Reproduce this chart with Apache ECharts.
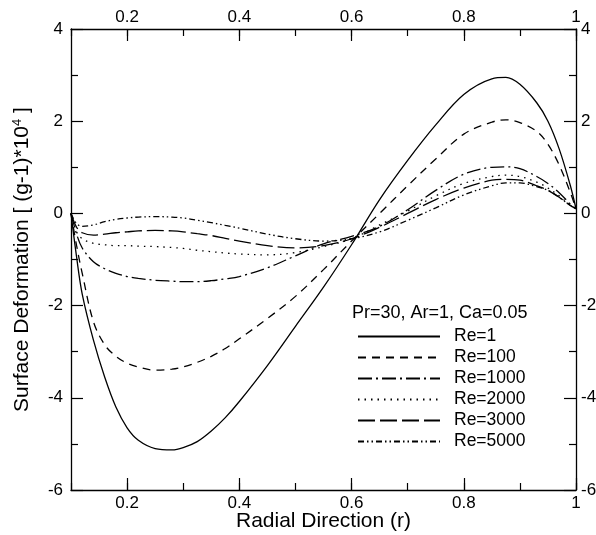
<!DOCTYPE html>
<html>
<head>
    <meta charset="UTF-8">
    <title>Surface Deformation</title>
    <script src="https://cdn.jsdelivr.net/npm/echarts@6/dist/echarts.min.js"></script>
    <style>
        html, body {margin: 0; padding: 0; background: #fff;}
        #chart {width: 596px; height: 535px;}
    </style>
</head>
<body>
<div id="chart"></div>
<script>
    // radial positions (shared by all curves)
    var rValues = [0.1, 0.11, 0.12, 0.14, 0.16, 0.18, 0.2, 0.22, 0.25, 0.28, 0.3, 0.325, 0.35, 0.375, 0.4, 0.45, 0.5,
        0.55, 0.6, 0.65, 0.7, 0.75, 0.8, 0.85, 0.875, 0.9, 0.93, 0.95, 0.97, 0.99, 1.0];

    // surface deformation (g-1)*10^4
    var re1 = [0, -0.95, -1.75, -2.75, -3.55, -4.2, -4.65, -4.92, -5.1, -5.13, -5.08, -4.95, -4.72, -4.43, -4.08, -3.3, -2.45,
        -1.6, -0.68, 0.3, 1.15, 1.92, 2.58, 2.92, 2.95, 2.8, 2.4, 2.0, 1.4, 0.6, 0.1];
    var re100 = [0, -0.7, -1.3, -2.35, -2.85, -3.1, -3.25, -3.33, -3.4, -3.38, -3.33, -3.23, -3.1, -2.93, -2.72, -2.28, -1.8,
        -1.22, -0.6, 0.0, 0.6, 1.18, 1.72, 1.98, 2.03, 1.97, 1.78, 1.5, 1.05, 0.45, 0.1];
    var re1000 = [0, -0.45, -0.75, -1.05, -1.2, -1.3, -1.37, -1.41, -1.45, -1.47, -1.48, -1.48, -1.46, -1.42, -1.37, -1.18, -0.92,
        -0.66, -0.5, -0.28, 0.08, 0.5, 0.85, 1.0, 1.01, 0.97, 0.8, 0.65, 0.45, 0.2, 0.1];
    var re2000 = [0, -0.4, -0.55, -0.65, -0.68, -0.7, -0.7, -0.71, -0.72, -0.74, -0.76, -0.8, -0.83, -0.86, -0.88, -0.9, -0.85,
        -0.72, -0.55, -0.25, 0.05, 0.38, 0.65, 0.8, 0.83, 0.8, 0.68, 0.55, 0.38, 0.18, 0.1];
    var re3000 = [0, -0.3, -0.42, -0.47, -0.45, -0.42, -0.4, -0.38, -0.37, -0.38, -0.4, -0.44, -0.48, -0.54, -0.6, -0.7, -0.75,
        -0.7, -0.55, -0.3, 0.0, 0.3, 0.55, 0.72, 0.74, 0.72, 0.6, 0.5, 0.35, 0.17, 0.1];
    var re5000 = [0, -0.22, -0.28, -0.25, -0.18, -0.13, -0.1, -0.08, -0.07, -0.08, -0.1, -0.15, -0.2, -0.26, -0.32, -0.45, -0.55,
        -0.6, -0.55, -0.4, -0.15, 0.12, 0.4, 0.6, 0.66, 0.66, 0.58, 0.5, 0.35, 0.17, 0.1];

    var seriesNames = ['Re=1', 'Re=100', 'Re=1000', 'Re=2000', 'Re=3000', 'Re=5000'];
    var seriesValues = [re1, re100, re1000, re2000, re3000, re5000];
    var dashTypes = ['solid', [8, 6], [14, 4, 2, 4], [1.5, 5], [17, 5], [6, 3, 1.5, 3, 1.5, 3]];

    var majorTicks = [0.2, 0.4, 0.6, 0.8, 1.0];
    var yMin = -6, yMax = 4;

    var font = 'Liberation Sans, Arial, Helvetica, sans-serif';

    function pairs(ys) {
        var out = [];
        for (var i = 0; i < rValues.length; i++) {
            out.push([rValues[i], ys[i]]);
        }
        return out;
    }

    function xLabel(v) {
        var k = Math.round(v * 10);
        if (k % 2 !== 0) return '';
        if (k === 10) return '1';
        return (k / 10).toFixed(1);
    }

    function makeX(pos, major) {
        var ax = {
            type: 'value',
            position: pos,
            min: 0.1,
            max: 1.0,
            interval: 0.1,
            splitLine: {show: false},
            axisLine: {show: !major, onZero: false, lineStyle: {color: '#000', width: 1.3}},
            axisTick: {inside: true, length: 7, lineStyle: {color: '#000', width: 1.2}},
            axisLabel: {show: false}
        };
        if (major) {
            ax.axisTick = {inside: true, length: 12, customValues: majorTicks, lineStyle: {color: '#000', width: 1.2}};
            ax.axisLabel = {
                show: true, customValues: majorTicks, formatter: xLabel,
                margin: pos === 'top' ? 3 : 5,
                color: '#000', fontSize: 17, fontFamily: font
            };
        }
        if (pos === 'bottom' && major) {
            ax.name = 'Radial Direction (r)';
            ax.nameLocation = 'middle';
            ax.nameGap = 21;
            ax.nameMoveOverlap = false;
            ax.nameTextStyle = {color: '#000', fontSize: 21, fontFamily: font, verticalAlign: 'top'};
        }
        return ax;
    }

    function makeY(pos) {
        var ax = {
            type: 'value',
            position: pos,
            min: yMin,
            max: yMax,
            interval: 2,
            splitLine: {show: false},
            axisLine: {show: true, onZero: false, lineStyle: {color: '#000', width: 1.3}},
            axisTick: {inside: true, length: 12, lineStyle: {color: '#000', width: 1.2}},
            minorTick: {show: true, splitNumber: 2, length: 7, lineStyle: {color: '#000', width: 1.2}},
            axisLabel: {
                color: '#000', fontSize: 17, fontFamily: font,
                margin: pos === 'left' ? 8 : 5
            }
        };
        if (pos === 'left') {
            ax.name = '{m|Surface Deformation [ (g-1)*10}{s|4}{m| ]}';
            ax.nameLocation = 'middle';
            ax.nameGap = 37;
            ax.nameRotate = 90;
            ax.nameMoveOverlap = false;
            ax.nameTextStyle = {
                rich: {
                    m: {color: '#000', fontSize: 21, fontFamily: font},
                    s: {color: '#000', fontSize: 13, fontFamily: font, verticalAlign: 'top', padding: [0, 0, 10, 0]}
                }
            };
        }
        return ax;
    }

    var series = [];
    for (var i = 0; i < seriesNames.length; i++) {
        series.push({
            name: seriesNames[i],
            type: 'line',
            data: pairs(seriesValues[i]),
            symbol: 'none',
            smooth: 0.35,
            silent: true,
            itemStyle: {color: '#000'},
            lineStyle: {color: '#000', width: 1.3, type: dashTypes[i]}
        });
    }

    var myChart = echarts.init(document.getElementById('chart'), null, {renderer: 'canvas'});
    var option = {
        backgroundColor: '#fff',
        animation: false,
        grid: {left: 71, right: 20, top: 29, bottom: 45, containLabel: false, outerBoundsMode: 'none'},
        title: {
            text: 'Pr=30, Ar=1, Ca=0.05',
            left: 352,
            top: 304,
            padding: 0,
            textStyle: {color: '#000', fontSize: 18, fontWeight: 'normal', fontFamily: font}
        },
        legend: {
            orient: 'vertical',
            left: 352,
            top: 321,
            itemWidth: 82,
            itemHeight: 14,
            itemGap: 0,
            data: seriesNames,
            itemStyle: {opacity: 0},
            textStyle: {color: '#000', fontSize: 17.5, fontFamily: font, lineHeight: 21, padding: [0, 0, 0, 9]}
        },
        xAxis: [makeX('bottom', false), makeX('bottom', true), makeX('top', false), makeX('top', true)],
        yAxis: [makeY('left'), makeY('right')],
        series: series
    };
    myChart.setOption(option);
</script>
</body>
</html>
